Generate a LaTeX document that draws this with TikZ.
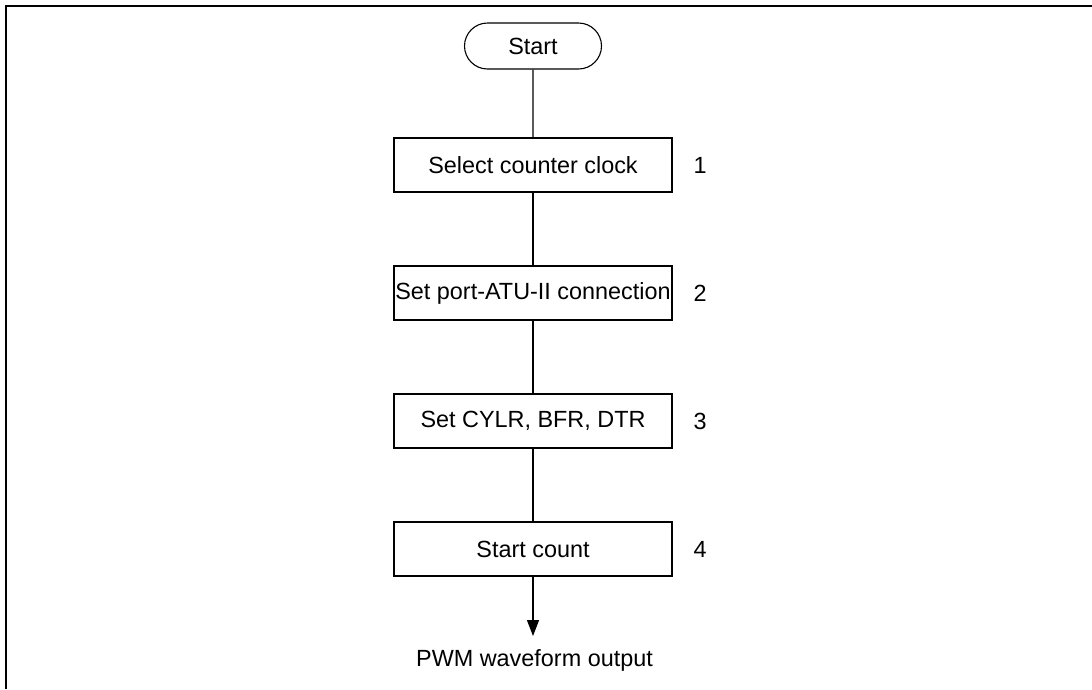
\documentclass[tikz,border=0pt]{standalone}
\usepackage{fontspec}
\setmainfont{Liberation Sans}
\usetikzlibrary{shapes.misc,arrows.meta}
\begin{document}
\begin{tikzpicture}[x=1pt,y=-1pt,
  every node/.style={font=\fontsize{23.4}{28}\selectfont},
  stepbox/.style={draw,line width=1.1pt,minimum width=278pt,minimum height=54pt,inner sep=0pt},
  term/.style={draw,line width=1.1pt,rounded rectangle,minimum width=137pt,minimum height=46pt,inner sep=0pt},
  num/.style={inner sep=0pt},
  conn/.style={line width=1.1pt}]
\useasboundingbox (0,0) rectangle (1092,689);
\draw[line width=2.4pt] (6,689) -- (6,6) -- (1092,6);
\node[term] (start) at (533,46) {Start};
\node[stepbox] (b1) at (533,165) {Select counter clock};
\node[stepbox] (b2) at (533,293) {Set port-ATU-II connection};
\node[stepbox] (b3) at (533,421) {Set CYLR, BFR, DTR};
\node[stepbox] (b4) at (533,549) {Start count};
\node[num] (n1) at (700,165) {1};
\node[num] (n2) at (700,293) {2};
\node[num] (n3) at (700,421) {3};
\node[num] (n4) at (700,549) {4};
\coordinate (end) at (533,636);
\node[inner sep=0pt] (out) at (534.5,660) {PWM waveform output};
\draw[conn] (start) -- (b1);
\draw[conn] (b1) -- (b2);
\draw[conn] (b2) -- (b3);
\draw[conn] (b3) -- (b4);
\draw[conn,-{Triangle[length=16pt,width=12pt]}] (b4) -- (end);
\end{tikzpicture}
\end{document}
